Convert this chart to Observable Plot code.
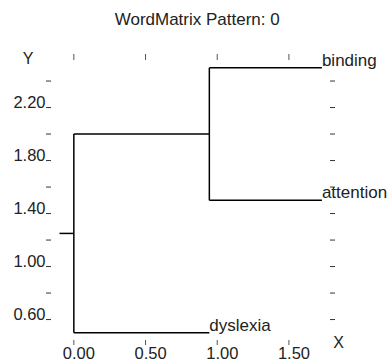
<!DOCTYPE html>
<html>
<head>
<meta charset="utf-8">
<script src="https://cdn.jsdelivr.net/npm/d3@7"></script>
<script src="https://cdn.jsdelivr.net/npm/@observablehq/plot@0.6"></script>
<style>
  html, body { margin: 0; padding: 0; background: white; }
</style>
</head>
<body>
<div id="chart"></div>
<script>
// ---- data ----
const titleText = "WordMatrix Pattern: 0";
const leafNames = ["binding", "attention", "dyslexia"];
const leafY = [2.5, 1.5, 0.5];
const leafHeight = [1.73, 1.73, 0.945];
const clusterNames = ["A", "root"];
const clusterHeight = [0.945, 0];
const clusterChildren = [["binding", "attention"], ["A", "dyslexia"]];
const rootStubStart = -0.1;
const xTicks = [0, 0.5, 1, 1.5];
const yTicks = [0.6, 0.8, 1.0, 1.2, 1.4, 1.6, 1.8, 2.0, 2.2, 2.4];
const yLabelTicks = [0.6, 1.0, 1.4, 1.8, 2.2];

// ---- build dendrogram segments ----
const pos = {};
leafNames.forEach((n, i) => pos[n] = {x: leafHeight[i], y: leafY[i]});
const segs = [];
clusterNames.forEach((c, i) => {
  const h = clusterHeight[i];
  const ys = clusterChildren[i].map(k => pos[k].y);
  segs.push({x1: h, x2: h, y1: d3.min(ys), y2: d3.max(ys)});
  clusterChildren[i].forEach(k => segs.push({x1: h, x2: pos[k].x, y1: pos[k].y, y2: pos[k].y}));
  pos[c] = {x: h, y: d3.mean(ys)};
});
const root = pos[clusterNames[clusterNames.length - 1]];
segs.push({x1: rootStubStart, x2: root.x, y1: root.y, y2: root.y});
const leaves = leafNames.map((n, i) => ({name: n, x: leafHeight[i], y: leafY[i]}));

const chart = Plot.plot({
  width: 389,
  height: 364,
  marginLeft: 59,
  marginRight: 60,
  marginTop: 59,
  marginBottom: 24,
  x: {domain: [rootStubStart, 1.783], axis: null, label: null},
  y: {domain: [0.4419, 2.5626], axis: null, label: null},
  style: {fontFamily: "'Liberation Sans', Arial, Helvetica, sans-serif", fontSize: "16px", color: "black", background: "white"},
  marks: [
    // axes ticks
    Plot.axisY(yTicks, {anchor: "left", tickSize: 5, dx: -8, tickFormat: () => "", label: null, stroke: "#333"}),
    Plot.axisY(yTicks, {anchor: "right", tickSize: 5, tickFormat: () => "", label: null, stroke: "#333"}),
    Plot.axisX(xTicks, {anchor: "top", tickSize: 6, tickFormat: () => "", label: null, stroke: "#555"}),
    Plot.axisX(xTicks, {anchor: "bottom", tickSize: 5, tickFormat: () => "", label: null, stroke: "#555"}),
    // tick labels
    Plot.text(yLabelTicks, {y: d => d, frameAnchor: "left", text: d => d.toFixed(2), textAnchor: "end", lineAnchor: "bottom", dx: -14, fontSize: 16.5, fill: "#222"}),
    Plot.text(xTicks, {x: d => d, frameAnchor: "bottom", text: d => d.toFixed(2), textAnchor: "start", lineAnchor: "bottom", dx: -11, dy: 18, fontSize: 16.5, fill: "#222"}),
    // dendrogram
    Plot.link(segs, {x1: "x1", y1: "y1", x2: "x2", y2: "y2", stroke: "black", strokeWidth: 1.5}),
    Plot.text(leaves, {x: "x", y: "y", text: "name", textAnchor: "start", lineAnchor: "bottom", dy: -2, fontSize: 17, fill: "#222"}),
    // axis labels and title
    Plot.text(["Y"], {frameAnchor: "top-left", textAnchor: "middle", lineAnchor: "bottom", dx: -31.5, dy: 4, fontSize: 16, fill: "#222"}),
    Plot.text(["X"], {frameAnchor: "bottom-right", textAnchor: "middle", lineAnchor: "bottom", dx: 9, dy: 7, fontSize: 16, fill: "#222"}),
    Plot.text([titleText], {frameAnchor: "top", textAnchor: "middle", lineAnchor: "bottom", dx: 2.7, dy: -35, fontSize: 17, fill: "#222"})
  ]
});
document.getElementById("chart").appendChild(chart);
</script>
</body>
</html>
